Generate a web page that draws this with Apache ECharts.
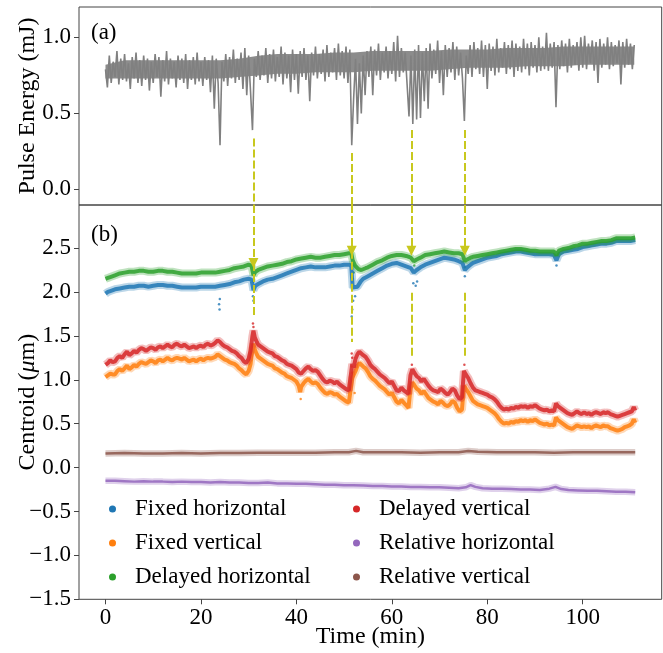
<!DOCTYPE html>
<html><head><meta charset="utf-8">
<script src="https://cdn.jsdelivr.net/npm/echarts/dist/echarts.min.js"></script>
<style>html,body{margin:0;padding:0;background:#fff}#c{width:663px;height:653px}</style>
</head><body><div id="c"></div>
<script>
// ---- data ----
const xTicks = [0, 20, 40, 60, 80, 100];
const energyTicks = [0, 0.5, 1.0];
const centroidTicks = [-1.5, -1.0, -0.5, 0, 0.5, 1.0, 1.5, 2.0, 2.5];

// Pulse energy (mJ), one sample every 0.4 min
const energyStep = 0.4;
const pulseEnergy = [
0.79,0.67,0.88,0.70,0.84,0.74,0.91,0.69,0.86,0.72,
0.89,0.71,0.83,0.66,0.87,0.73,0.90,0.70,0.85,0.68,
0.88,0.72,0.86,0.65,0.84,0.70,0.89,0.74,0.87,0.61,
0.85,0.71,0.91,0.69,0.86,0.73,0.84,0.67,0.88,0.72,
0.86,0.70,0.89,0.66,0.85,0.72,0.87,0.69,0.90,0.71,
0.84,0.68,0.87,0.72,0.85,0.64,0.88,0.53,0.86,0.70,
0.29,0.84,0.71,0.89,0.68,0.87,0.73,0.92,0.70,0.86,
0.72,0.90,0.66,0.93,0.62,0.88,0.64,0.39,0.86,0.74,
0.91,0.72,0.88,0.75,0.93,0.70,0.89,0.73,0.92,0.71,
0.87,0.74,0.94,0.69,0.90,0.73,0.88,0.64,0.92,0.72,
0.89,0.63,0.91,0.74,0.93,0.72,0.88,0.58,0.90,0.75,
0.94,0.73,0.89,0.76,0.92,0.71,0.95,0.74,0.90,0.77,
0.93,0.72,0.96,0.75,0.91,0.73,0.94,0.70,0.92,0.29,
0.60,0.86,0.43,0.83,0.50,0.88,0.62,0.91,0.74,0.94,
0.62,0.92,0.75,0.96,0.72,0.90,0.77,0.94,0.73,0.91,
0.76,0.97,0.71,1.01,0.74,0.93,0.77,0.90,0.69,0.48,
0.88,0.43,0.92,0.46,0.95,0.47,0.90,0.58,0.93,0.53,
0.96,0.73,0.92,0.76,0.98,0.70,0.91,0.62,0.95,0.74,
0.93,0.77,0.97,0.72,0.94,0.75,0.90,0.73,0.45,0.88,
0.76,0.95,0.74,0.97,0.79,0.93,0.76,0.98,0.74,0.95,
0.66,0.96,0.78,0.94,0.75,0.99,0.77,0.93,0.80,0.97,
0.76,0.95,0.79,0.98,0.74,0.96,0.78,0.94,0.77,0.99,
0.79,0.96,0.75,0.97,0.80,0.95,0.77,1.00,0.78,0.94,
0.79,1.03,0.78,0.96,0.80,0.97,0.54,0.95,0.79,0.98,
0.81,0.96,0.77,0.99,0.80,0.95,0.82,0.97,0.78,1.00,
0.80,1.01,0.79,0.96,0.83,0.98,0.78,0.97,0.70,0.99,
0.80,0.96,0.82,1.00,0.79,0.97,0.81,0.95,0.83,0.98,
0.69,0.97,0.80,0.99,0.82,0.96,0.79,0.95
];
// dense core of the pulse-energy noise band
const energyCoreTimes = [0,4,8,12,16,20,24,28,32,36,40,44,48,52,56,60,64,68,72,76,80,84,88,92,96,100,104,108,110.8];
const energyCoreLow  = [0.73,0.73,0.73,0.73,0.73,0.73,0.73,0.74,0.75,0.76,0.76,0.77,0.77,0.77,0.78,0.78,0.78,0.78,0.79,0.80,0.80,0.80,0.81,0.81,0.81,0.82,0.82,0.82,0.82];
const energyCoreHigh = [0.82,0.85,0.85,0.85,0.85,0.85,0.85,0.86,0.88,0.89,0.89,0.89,0.90,0.90,0.91,0.91,0.91,0.91,0.92,0.92,0.92,0.93,0.93,0.93,0.94,0.94,0.94,0.94,0.94];

// Centroid series ([time min, centroid µm])
const fixedHorizontal = [[0,1.98],[0.5,2.00],[1,2.01],[2,2.03],[3,2.04],[4,2.05],[5,2.06],[6,2.06],[7,2.07],[8,2.07],[9,2.06],[10,2.07],[11,2.08],[12,2.08],[13,2.07],[14,2.07],[15,2.06],[16,2.05],[17,2.05],[18,2.05],[19,2.05],[20,2.06],[21,2.06],[22,2.06],[23,2.06],[24,2.07],[25,2.08],[26,2.09],[27,2.11],[28,2.12],[29,2.14],[30,2.15],[30.6,2.14],[31,2.02],[31.4,2.07],[32,2.09],[33,2.12],[34,2.14],[35,2.15],[36,2.17],[37,2.19],[38,2.21],[39,2.23],[40,2.25],[41,2.27],[42,2.28],[43,2.29],[44,2.28],[45,2.28],[46,2.28],[47,2.29],[48,2.30],[49,2.30],[50,2.31],[51,2.31],[51.5,2.30],[51.8,2.05],[52.2,2.03],[52.8,2.06],[53.5,2.12],[54,2.15],[55,2.18],[56,2.21],[57,2.24],[58,2.27],[59,2.30],[60,2.32],[61,2.33],[62,2.31],[63,2.29],[64,2.27],[64.6,2.22],[65.2,2.25],[66,2.28],[67,2.31],[68,2.33],[69,2.35],[70,2.37],[71,2.39],[72,2.38],[73,2.37],[74,2.35],[74.8,2.33],[75.3,2.25],[75.8,2.28],[76.5,2.31],[77,2.33],[78,2.35],[79,2.37],[80,2.39],[81,2.40],[82,2.41],[83,2.43],[84,2.44],[85,2.45],[86,2.46],[87,2.46],[88,2.45],[89,2.44],[90,2.43],[91,2.43],[92,2.43],[93,2.43],[94,2.42],[94.5,2.36],[95,2.43],[96,2.46],[97,2.47],[98,2.48],[99,2.49],[100,2.51],[101,2.52],[102,2.53],[103,2.54],[104,2.55],[105,2.55],[106,2.56],[107,2.58],[108,2.58],[109,2.58],[110,2.58],[111,2.59]];

const fixedVertical = [[0,1.03],[0.5,1.05],[1,1.07],[1.5,1.06],[2,1.06],[2.5,1.10],[3,1.12],[3.5,1.10],[4,1.13],[4.5,1.16],[5,1.12],[5.5,1.14],[6,1.17],[6.5,1.15],[7,1.18],[7.5,1.20],[8,1.19],[8.5,1.18],[9,1.20],[9.5,1.22],[10,1.21],[10.5,1.19],[11,1.22],[11.5,1.23],[12,1.21],[12.5,1.23],[13,1.25],[13.5,1.23],[14,1.22],[14.5,1.24],[15,1.25],[15.5,1.24],[16,1.23],[16.5,1.25],[17,1.23],[17.5,1.21],[18,1.22],[18.5,1.23],[19,1.21],[19.5,1.23],[20,1.24],[20.5,1.22],[21,1.24],[21.5,1.25],[22,1.24],[22.5,1.25],[23,1.26],[23.5,1.29],[24,1.27],[24.5,1.25],[25,1.23],[25.5,1.22],[26,1.20],[26.5,1.19],[27,1.18],[27.5,1.16],[28,1.13],[28.5,1.11],[29,1.08],[29.5,1.06],[30,1.10],[30.4,1.18],[30.8,1.36],[31,1.41],[31.3,1.34],[31.7,1.29],[32,1.26],[32.5,1.24],[33,1.22],[33.5,1.20],[34,1.18],[34.5,1.17],[35,1.16],[35.5,1.13],[36,1.12],[36.5,1.10],[37,1.08],[37.5,1.07],[38,1.04],[38.5,1.03],[39,1.02],[39.5,1.00],[40,0.98],[40.5,0.93],[40.8,0.86],[41,0.92],[41.5,0.96],[42,0.99],[42.5,1.01],[43,0.98],[43.5,0.96],[44,0.97],[44.5,0.95],[45,0.91],[45.5,0.88],[46,0.85],[46.5,0.84],[47,0.86],[47.5,0.85],[48,0.83],[48.5,0.84],[49,0.81],[49.5,0.79],[50,0.77],[50.5,0.75],[51,0.74],[51.4,0.73],[51.7,1.02],[52,1.00],[52.4,1.10],[52.8,1.16],[53.2,1.19],[53.6,1.18],[54,1.15],[54.5,1.13],[55,1.09],[55.5,1.04],[56,1.01],[56.5,0.99],[57,0.96],[57.5,0.93],[58,0.91],[58.5,0.89],[59,0.86],[59.5,0.83],[60,0.85],[60.5,0.80],[61,0.75],[61.5,0.73],[62,0.77],[62.5,0.74],[63,0.71],[63.5,0.68],[63.9,0.90],[64.3,0.97],[64.7,0.94],[65.2,0.90],[65.7,0.88],[66.2,0.84],[66.7,0.87],[67.2,0.83],[67.7,0.79],[68.2,0.77],[68.7,0.75],[69.2,0.74],[69.7,0.72],[70.2,0.76],[70.7,0.74],[71.2,0.71],[71.7,0.70],[72.2,0.72],[72.7,0.76],[73.2,0.74],[73.7,0.68],[74.2,0.64],[74.7,0.66],[75.1,0.93],[75.5,0.90],[76,0.86],[76.5,0.81],[77,0.76],[77.5,0.74],[78,0.72],[78.5,0.71],[79,0.70],[79.5,0.69],[80,0.68],[80.5,0.66],[81,0.64],[81.5,0.62],[82,0.59],[82.5,0.55],[83,0.52],[83.5,0.50],[84,0.51],[84.5,0.50],[85,0.52],[85.5,0.51],[86,0.53],[86.5,0.52],[87,0.54],[87.5,0.53],[88,0.54],[88.5,0.52],[89,0.54],[89.5,0.53],[90,0.55],[90.5,0.53],[91,0.51],[91.5,0.50],[92,0.49],[92.5,0.50],[93,0.48],[93.5,0.49],[94,0.48],[94.4,0.57],[94.8,0.54],[95.3,0.52],[95.8,0.50],[96.3,0.48],[96.8,0.46],[97.3,0.45],[97.8,0.44],[98.3,0.46],[98.8,0.48],[99.3,0.47],[99.8,0.46],[100.3,0.47],[100.8,0.46],[101.3,0.47],[101.8,0.45],[102.3,0.47],[102.8,0.48],[103.3,0.47],[103.8,0.46],[104.3,0.48],[104.8,0.47],[105.3,0.47],[105.8,0.45],[106.3,0.44],[106.8,0.43],[107.3,0.42],[107.8,0.43],[108.3,0.44],[108.8,0.46],[109.3,0.47],[109.8,0.48],[110.3,0.50],[110.7,0.55],[111,0.51]];

const delayedHorizontal = [[0,2.15],[0.5,2.16],[1,2.17],[2,2.19],[3,2.21],[4,2.22],[5,2.23],[6,2.23],[7,2.24],[8,2.24],[9,2.23],[10,2.23],[11,2.24],[12,2.24],[13,2.23],[14,2.23],[15,2.22],[16,2.21],[17,2.21],[18,2.21],[19,2.21],[20,2.22],[21,2.22],[22,2.22],[23,2.22],[24,2.23],[25,2.24],[26,2.25],[27,2.27],[28,2.28],[29,2.29],[30,2.31],[30.6,2.30],[31,2.19],[31.4,2.23],[32,2.25],[33,2.27],[34,2.29],[35,2.30],[36,2.31],[37,2.32],[38,2.34],[39,2.35],[40,2.37],[41,2.38],[42,2.39],[43,2.40],[44,2.39],[45,2.39],[46,2.40],[47,2.41],[48,2.42],[49,2.42],[50,2.43],[51,2.44],[51.5,2.44],[51.8,2.36],[52.3,2.30],[53,2.26],[53.6,2.25],[54.5,2.27],[55,2.28],[56,2.31],[57,2.34],[58,2.36],[59,2.39],[60,2.41],[61,2.42],[62,2.42],[63,2.41],[64,2.39],[64.6,2.35],[65.2,2.37],[66,2.39],[67,2.42],[68,2.43],[69,2.44],[70,2.45],[71,2.46],[72,2.45],[73,2.44],[74,2.44],[74.8,2.43],[75.3,2.35],[75.8,2.37],[76.5,2.39],[77,2.40],[78,2.41],[79,2.42],[80,2.43],[81,2.44],[82,2.45],[83,2.46],[84,2.47],[85,2.48],[86,2.49],[87,2.49],[88,2.48],[89,2.47],[90,2.47],[91,2.46],[92,2.46],[93,2.46],[94,2.46],[94.5,2.42],[95,2.47],[96,2.49],[97,2.50],[98,2.52],[99,2.53],[100,2.55],[101,2.55],[102,2.56],[103,2.57],[104,2.58],[105,2.58],[106,2.59],[107,2.61],[108,2.61],[109,2.61],[110,2.61],[111,2.62]];

const delayedVertical = [[0,1.17],[0.5,1.19],[1,1.22],[1.5,1.20],[2,1.21],[2.5,1.25],[3,1.27],[3.5,1.25],[4,1.29],[4.5,1.32],[5,1.28],[5.5,1.30],[6,1.33],[6.5,1.31],[7,1.34],[7.5,1.36],[8,1.35],[8.5,1.33],[9,1.35],[9.5,1.37],[10,1.36],[10.5,1.34],[11,1.37],[11.5,1.38],[12,1.36],[12.5,1.38],[13,1.40],[13.5,1.38],[14,1.37],[14.5,1.40],[15,1.41],[15.5,1.39],[16,1.38],[16.5,1.40],[17,1.38],[17.5,1.36],[18,1.37],[18.5,1.38],[19,1.36],[19.5,1.38],[20,1.39],[20.5,1.37],[21,1.40],[21.5,1.41],[22,1.39],[22.5,1.40],[23,1.42],[23.5,1.45],[24,1.43],[24.5,1.40],[25,1.38],[25.5,1.37],[26,1.35],[26.5,1.33],[27,1.32],[27.5,1.30],[28,1.27],[28.5,1.25],[29,1.21],[29.5,1.19],[30,1.24],[30.4,1.33],[30.8,1.50],[31,1.56],[31.3,1.48],[31.7,1.43],[32,1.40],[32.5,1.38],[33,1.36],[33.5,1.34],[34,1.32],[34.5,1.31],[35,1.30],[35.5,1.27],[36,1.26],[36.5,1.24],[37,1.22],[37.5,1.21],[38,1.18],[38.5,1.17],[39,1.16],[39.5,1.14],[40,1.12],[40.5,1.08],[41,1.07],[41.5,1.10],[42,1.13],[42.5,1.15],[43,1.12],[43.5,1.10],[44,1.11],[44.5,1.09],[45,1.05],[45.5,1.01],[46,0.98],[46.5,0.97],[47,0.99],[47.5,0.98],[48,0.96],[48.5,0.98],[49,0.95],[49.5,0.93],[50,0.91],[50.5,0.89],[51,0.88],[51.4,0.87],[51.7,1.18],[52,1.14],[52.4,1.24],[52.8,1.29],[53.2,1.32],[53.6,1.31],[54,1.28],[54.5,1.26],[55,1.22],[55.5,1.17],[56,1.14],[56.5,1.12],[57,1.09],[57.5,1.06],[58,1.04],[58.5,1.02],[59,0.99],[59.5,0.96],[60,0.98],[60.5,0.93],[61,0.88],[61.5,0.87],[62,0.91],[62.5,0.88],[63,0.86],[63.5,0.84],[63.9,1.05],[64.3,1.12],[64.7,1.08],[65.2,1.04],[65.7,1.02],[66.2,0.98],[66.7,1.01],[67.2,0.97],[67.7,0.93],[68.2,0.90],[68.7,0.88],[69.2,0.87],[69.7,0.86],[70.2,0.90],[70.7,0.88],[71.2,0.85],[71.7,0.83],[72.2,0.86],[72.7,0.90],[73.2,0.88],[73.7,0.82],[74.2,0.78],[74.7,0.80],[75.1,1.10],[75.5,1.06],[76,1.02],[76.5,0.96],[77,0.91],[77.5,0.88],[78,0.87],[78.5,0.86],[79,0.85],[79.5,0.84],[80,0.83],[80.5,0.81],[81,0.80],[81.5,0.78],[82,0.75],[82.5,0.71],[83,0.68],[83.5,0.66],[84,0.67],[84.5,0.66],[85,0.68],[85.5,0.67],[86,0.69],[86.5,0.68],[87,0.70],[87.5,0.69],[88,0.70],[88.5,0.68],[89,0.70],[89.5,0.69],[90,0.71],[90.5,0.69],[91,0.67],[91.5,0.66],[92,0.65],[92.5,0.66],[93,0.64],[93.5,0.65],[94,0.64],[94.4,0.73],[94.8,0.70],[95.3,0.68],[95.8,0.66],[96.3,0.64],[96.8,0.62],[97.3,0.61],[97.8,0.60],[98.3,0.62],[98.8,0.64],[99.3,0.62],[99.8,0.61],[100.3,0.63],[100.8,0.61],[101.3,0.62],[101.8,0.60],[102.3,0.62],[102.8,0.63],[103.3,0.62],[103.8,0.61],[104.3,0.63],[104.8,0.62],[105.3,0.63],[105.8,0.61],[106.3,0.60],[106.8,0.59],[107.3,0.58],[107.8,0.59],[108.3,0.60],[108.8,0.61],[109.3,0.62],[109.8,0.63],[110.3,0.64],[110.7,0.69],[111,0.65]];

const relativeHorizontal = [[0,-0.15],[2,-0.15],[4,-0.155],[6,-0.16],[8,-0.155],[10,-0.16],[12,-0.16],[14,-0.165],[16,-0.16],[18,-0.165],[20,-0.165],[22,-0.17],[24,-0.165],[26,-0.17],[28,-0.17],[30,-0.175],[32,-0.175],[34,-0.17],[36,-0.18],[38,-0.18],[40,-0.185],[42,-0.185],[44,-0.19],[46,-0.195],[48,-0.195],[50,-0.2],[52,-0.2],[54,-0.205],[56,-0.21],[58,-0.21],[60,-0.215],[62,-0.215],[64,-0.22],[66,-0.22],[68,-0.225],[70,-0.225],[72,-0.23],[74,-0.235],[75.5,-0.225],[76.5,-0.2],[77.5,-0.22],[79,-0.235],[81,-0.24],[83,-0.24],[85,-0.245],[87,-0.25],[89,-0.25],[91,-0.255],[93,-0.24],[94.3,-0.22],[95.5,-0.245],[97,-0.255],[99,-0.26],[101,-0.265],[103,-0.265],[105,-0.27],[107,-0.275],[109,-0.275],[111,-0.28]];

const relativeVertical = [[0,0.16],[4,0.165],[8,0.16],[12,0.16],[16,0.165],[20,0.16],[24,0.165],[28,0.165],[32,0.17],[36,0.17],[40,0.17],[44,0.17],[48,0.175],[51,0.175],[52.5,0.19],[54,0.175],[58,0.175],[62,0.175],[66,0.17],[70,0.175],[74,0.175],[76,0.19],[78,0.18],[82,0.175],[86,0.175],[90,0.175],[94,0.17],[98,0.175],[102,0.175],[106,0.175],[111,0.175]];

// sparse outlying points
const fixedHorizontalOut = [[23.8,1.86],[23.9,1.80],[23.95,1.92],[30.9,1.95],[31.0,1.90],[51.6,1.72],[51.7,1.80],[51.9,1.90],[52.3,1.95],[64.5,2.10],[65.0,2.07],[65.3,2.12],[94.5,2.30],[75.3,2.18]];
const delayedHorizontalOut = [[31,2.12],[51.8,2.15],[52,2.22],[75.3,2.28],[64.7,2.30]];
const delayedVerticalOut = [[30.9,1.64],[31.0,1.60],[51.6,1.30],[51.7,1.25],[75.2,1.17],[64.2,1.17]];
const fixedVerticalOut = [[51.6,1.15],[51.7,1.08],[52.2,0.85],[40.9,0.78]];

// event arrows
const arrowTimes = [31.0, 51.6, 64.1, 75.3];
const arrowStart = [0.335, 0.24, 0.39, 0.39];   // in pulse-energy units
const arrowTip = [2.33, 2.47, 2.47, 2.47];       // in centroid units
const guideTop = [2.33, 2.47, 1.99, 1.99];
const guideBottom = [1.73, 1.43, 1.24, 1.24];

const seriesNames = ['Fixed horizontal','Fixed vertical','Delayed horizontal','Delayed vertical','Relative horizontal','Relative vertical'];
const seriesColors = ['#1f77b4','#ff7f0e','#2ca02c','#d62728','#9467bd','#8c564b'];

// ---- chart ----
const FONT = 'Liberation Serif';
const X_MIN = -5.55, X_MAX = 116.55;
const E_MIN = -0.103, E_MAX = 1.2;
const C_MIN = -1.5, C_MAX = 2.99;
const YEL = '#c8c81e';
const AX = '#444';
const fmt = v => (v < 0 ? '\u2212' : '') + Math.abs(v).toFixed(1);

const chart = echarts.init(document.getElementById('c'), null, {renderer: 'canvas'});

function band(name, color, data, width) {
  return [
    {type:'line', name, xAxisIndex:1, yAxisIndex:1, data, symbol:'none', showSymbol:false,
      color, lineStyle:{color, width:width + 3, opacity:0.3}, silent:true, animation:false},
    {type:'line', name, xAxisIndex:1, yAxisIndex:1, data, symbol:'none', showSymbol:false,
      color, lineStyle:{color, width:width - 1, opacity:0.85}, silent:true, animation:false}
  ];
}
function dots(name, color, data) {
  return {type:'scatter', name, xAxisIndex:1, yAxisIndex:1, data, symbolSize:2.5,
    itemStyle:{color, opacity:0.8}, silent:true, animation:false};
}
const lineBase = {type:'lines', coordinateSystem:'cartesian2d', silent:true, animation:false, z:10,
  lineStyle:{color:YEL, width:2, type:[8,3], opacity:1}};

const option = {
  backgroundColor:'#fff',
  animation:false,
  grid:[
    {left:79, right:1.3, top:7, height:198, show:true, borderColor:AX, borderWidth:1, outerBoundsMode:'none', containLabel:false},
    {left:79, right:1.3, top:205, bottom:53.7, show:true, borderColor:AX, borderWidth:1, outerBoundsMode:'none', containLabel:false}
  ],
  xAxis:[
    {gridIndex:0, type:'value', min:X_MIN, max:X_MAX, position:'bottom', axisLine:{show:false, onZero:false}, axisTick:{show:false}, axisLabel:{show:false}, splitLine:{show:false}},
    {gridIndex:1, type:'value', min:X_MIN, max:X_MAX, position:'bottom', axisLine:{show:false, onZero:false},
      axisTick:{show:true, customValues:xTicks, length:5, lineStyle:{color:AX}},
      axisLabel:{customValues:xTicks, fontFamily:FONT, fontSize:23, color:'#000', margin:7},
      splitLine:{show:false},
      name:'Time (min)', nameLocation:'middle', nameGap:25, nameMoveOverlap:false,
      nameTextStyle:{fontFamily:FONT, fontSize:24, color:'#000'}}
  ],
  yAxis:[
    {gridIndex:0, type:'value', min:E_MIN, max:E_MAX, position:'left', axisLine:{show:false, onZero:false},
      axisTick:{show:true, customValues:energyTicks, length:5, lineStyle:{color:AX}},
      axisLabel:{customValues:energyTicks, formatter:fmt, fontFamily:FONT, fontSize:23, color:'#000', margin:8},
      splitLine:{show:false},
      name:'Pulse Energy (mJ)', nameLocation:'middle', nameGap:39, nameMoveOverlap:false,
      nameTextStyle:{fontFamily:FONT, fontSize:24, color:'#000'}},
    {gridIndex:1, type:'value', min:C_MIN, max:C_MAX, position:'left', axisLine:{show:false, onZero:false},
      axisTick:{show:true, customValues:centroidTicks, length:5, lineStyle:{color:AX}},
      axisLabel:{customValues:centroidTicks, formatter:fmt, fontFamily:FONT, fontSize:23, color:'#000', margin:8},
      splitLine:{show:false},
      name:'{n|Centroid (}{i|\u03bc}{n|m)}', nameLocation:'middle', nameGap:39, nameMoveOverlap:false,
      nameTextStyle:{color:'#000', rich:{n:{fontFamily:FONT, fontSize:24, color:'#000'}, i:{fontFamily:FONT, fontSize:24, fontStyle:'italic', color:'#000'}}}}
  ],
  legend:[
    {data:seriesNames.slice(0,3), orient:'vertical', left:109, top:497, padding:0, itemGap:10, icon:'circle', itemWidth:7, itemHeight:7, selectedMode:false,
      textStyle:{fontFamily:FONT, fontSize:23, color:'#000', lineHeight:24, padding:[0,0,0,14]}},
    {data:seriesNames.slice(3), orient:'vertical', left:353, top:497, padding:0, itemGap:10, icon:'circle', itemWidth:7, itemHeight:7, selectedMode:false,
      textStyle:{fontFamily:FONT, fontSize:23, color:'#000', lineHeight:24, padding:[0,0,0,14]}}
  ],
  graphic:[
    {type:'text', left:91, top:21, style:{text:'(a)', fontFamily:FONT, fontSize:23, fill:'#000'}},
    {type:'text', left:91, top:223, style:{text:'(b)', fontFamily:FONT, fontSize:23, fill:'#000'}}
  ],
  series:[
    {type:'custom', name:'core band', xAxisIndex:0, yAxisIndex:0, data:[[energyCoreTimes[0], energyCoreLow[0]]], silent:true, animation:false,
      renderItem:(params, api) => {
        const upper = energyCoreTimes.map((t,i)=>api.coord([t, energyCoreHigh[i]]));
        const lower = energyCoreTimes.map((t,i)=>api.coord([t, energyCoreLow[i]])).reverse();
        return {type:'polygon', shape:{points:upper.concat(lower)}, style:{fill:'#8c8c8c'}};
      }},
    {type:'line', name:'Pulse energy', xAxisIndex:0, yAxisIndex:0, data:pulseEnergy.map((v,i)=>[i*energyStep, v]),
      symbol:'none', showSymbol:false, lineStyle:{color:'#808080', width:1.6, join:'bevel'}, silent:true, animation:false},
    ...band(seriesNames[0], seriesColors[0], fixedHorizontal, 5),
    ...band(seriesNames[1], seriesColors[1], fixedVertical, 5),
    ...band(seriesNames[2], seriesColors[2], delayedHorizontal, 5),
    ...band(seriesNames[3], seriesColors[3], delayedVertical, 5),
    ...band(seriesNames[4], seriesColors[4], relativeHorizontal, 3.5),
    ...band(seriesNames[5], seriesColors[5], relativeVertical, 3.5),
    dots(seriesNames[0], seriesColors[0], fixedHorizontalOut),
    dots(seriesNames[1], seriesColors[1], fixedVerticalOut),
    dots(seriesNames[2], seriesColors[2], delayedHorizontalOut),
    dots(seriesNames[3], seriesColors[3], delayedVerticalOut),
    Object.assign({}, lineBase, {xAxisIndex:0, yAxisIndex:0, symbol:'none',
      data:arrowTimes.map((t,i)=>({coords:[[t, arrowStart[i]],[t, E_MIN]]}))}),
    Object.assign({}, lineBase, {xAxisIndex:1, yAxisIndex:1, symbol:['none','triangle'], symbolSize:[10,10],
      data:arrowTimes.map((t,i)=>({coords:[[t, C_MAX],[t, arrowTip[i]]]}))}),
    Object.assign({}, lineBase, {xAxisIndex:1, yAxisIndex:1, symbol:'none',
      data:arrowTimes.map((t,i)=>({coords:[[t, guideTop[i]],[t, guideBottom[i]]]}))})
  ]
};
chart.setOption(option);
</script></body></html>
